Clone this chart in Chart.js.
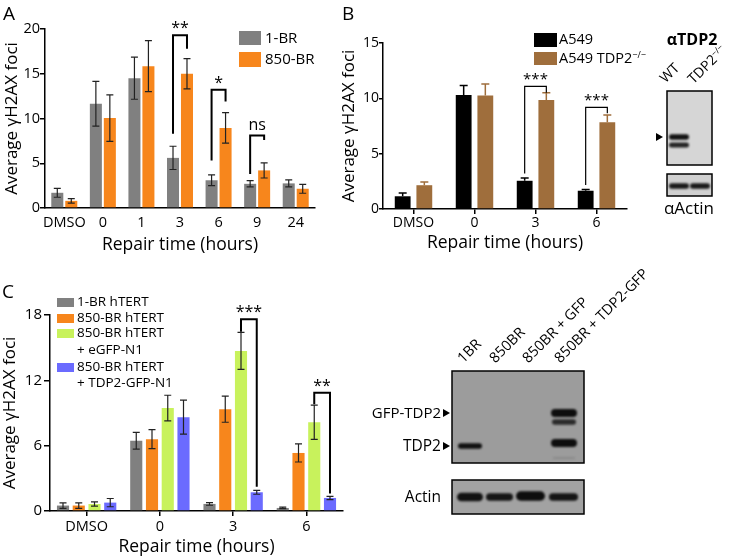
<!DOCTYPE html>
<html>
<head>
<meta charset="utf-8">
<script src="https://cdn.jsdelivr.net/npm/chart.js"></script>
<style>
  body { margin: 0; background: #fff; }
  #fig { position: relative; width: 734px; height: 558px; font-family: 'Open Sans', sans-serif; color: #000; }
  .pane { position: absolute; }
  .t { position: absolute; white-space: nowrap; line-height: 1; }
  .sq { position: absolute; }
  .rot { position: absolute; white-space: nowrap; line-height: 1; transform-origin: left bottom; transform: rotate(-45deg); }
  sup { font-size: 0.62em; vertical-align: 0.55em; line-height: 0; }
</style>
</head>
<body>
<div id="fig">
  <div class="pane" style="left:0;top:0"><canvas id="chartA" width="340" height="260"></canvas></div>
  <div class="pane" style="left:340px;top:0"><canvas id="chartB" width="300" height="260"></canvas></div>
  <div class="pane" style="left:0;top:260px"><canvas id="chartC" width="350" height="298"></canvas></div>
  <canvas id="blots" width="734" height="558" style="position:absolute;left:0;top:0;pointer-events:none"></canvas>

  <div class="t" style="left:3px;top:4px;font-size:19px">A</div>
  <div class="t" style="left:342px;top:4px;font-size:19px">B</div>
  <div class="t" style="left:2px;top:282px;font-size:19px">C</div>

  <!-- legend A -->
  <div class="sq" style="left:239px;top:31px;width:22px;height:14px;background:#808080"></div>
  <div class="t" style="left:265px;top:29.7px;font-size:15px">1-BR</div>
  <div class="sq" style="left:239px;top:52px;width:22px;height:15px;background:#f7861c"></div>
  <div class="t" style="left:265px;top:50.7px;font-size:15px">850-BR</div>

  <!-- legend B -->
  <div class="sq" style="left:534px;top:33px;width:23px;height:14px;background:#000"></div>
  <div class="t" style="left:559px;top:32px;font-size:14.5px">A549</div>
  <div class="sq" style="left:534px;top:52px;width:23px;height:13px;background:#9f6e3c"></div>
  <div class="t" style="left:559px;top:50.5px;font-size:14.5px">A549 TDP2<sup>−/−</sup></div>

  <!-- legend C -->
  <div class="sq" style="left:57px;top:297.5px;width:17px;height:9px;background:#808080"></div>
  <div class="t" style="left:77px;top:294.6px;font-size:13.5px">1-BR hTERT</div>
  <div class="sq" style="left:57px;top:313.5px;width:17px;height:9px;background:#f7861c"></div>
  <div class="t" style="left:77px;top:310.6px;font-size:13.5px">850-BR hTERT</div>
  <div class="sq" style="left:57px;top:328.5px;width:17px;height:9px;background:#c8f25c"></div>
  <div class="t" style="left:77px;top:325.6px;font-size:13.5px">850-BR hTERT</div>
  <div class="t" style="left:77px;top:342.6px;font-size:13.5px">+ eGFP-N1</div>
  <div class="sq" style="left:57px;top:362.5px;width:17px;height:9px;background:#6b6bff"></div>
  <div class="t" style="left:77px;top:359.6px;font-size:13.5px">850-BR hTERT</div>
  <div class="t" style="left:77px;top:375.6px;font-size:13.5px">+ TDP2-GFP-N1</div>

  <!-- blot B text -->
  <div class="t" style="left:692px;top:31px;font-size:16px;font-weight:bold;transform:translateX(-50%)">αTDP2</div>
  <div class="rot" style="left:667px;top:71px;font-size:14px">WT</div>
  <div class="rot" style="left:695px;top:72px;font-size:14px">TDP2<sup>−/−</sup></div>
  <div class="t" style="left:689px;top:198.5px;font-size:17px;transform:translateX(-50%)">αActin</div>

  <!-- blot C text -->
  <div class="rot" style="left:465px;top:351px;font-size:14.5px">1BR</div>
  <div class="rot" style="left:497px;top:351px;font-size:14.5px">850BR</div>
  <div class="rot" style="left:530px;top:351px;font-size:14.5px">850BR + GFP</div>
  <div class="rot" style="left:562px;top:351px;font-size:14.5px">850BR + TDP2-GFP</div>
  <div class="t" style="right:293px;top:404.7px;font-size:15px">GFP-TDP2</div>
  <div class="t" style="right:293px;top:437.5px;font-size:15.5px">TDP2</div>
  <div class="t" style="right:293px;top:488.5px;font-size:15.5px">Actin</div>
</div>

<script>
// ---- panel A data ----
const catsA = ['DMSO', '0', '1', '3', '6', '9', '24'];
const oneBR = [1.7, 11.65, 14.5, 5.6, 3.1, 2.7, 2.75];
const oneBRErr = [0.5, 2.5, 2.35, 1.3, 0.6, 0.35, 0.4];
const br850 = [0.8, 10.05, 15.85, 15.0, 8.95, 4.2, 2.15];
const br850Err = [0.25, 2.6, 2.85, 1.7, 1.7, 0.85, 0.5];
const bracketsA = [
  { cat: 3, a: 0, b: 1, top: 19.3, aBot: 8.3, bBot: 17.8, text: '**' },
  { cat: 4, a: 0, b: 1, top: 13.2, aBot: 5.3, bBot: 11.9, text: '*' },
  { cat: 5, a: 0, b: 1, top: 8.1, aBot: 3.8, bBot: 7.6, text: 'ns' }
];

// ---- panel B data ----
const catsB = ['DMSO', '0', '3', '6'];
const a549 = [1.15, 10.3, 2.55, 1.65];
const a549Err = [0.3, 0.85, 0.25, 0.12];
const a549KO = [2.15, 10.25, 9.85, 7.85];
const a549KOErr = [0.28, 1.05, 0.65, 0.65];
const bracketsB = [
  { cat: 2, a: 0, b: 1, top: 11.08, aBot: 3.2, bBot: 10.5, text: '***' },
  { cat: 3, a: 0, b: 1, top: 9.18, aBot: 2.17, bBot: 8.66, text: '***' }
];

// ---- panel C data ----
const catsC = ['DMSO', '0', '3', '6'];
const c1BR = [0.5, 6.45, 0.65, 0.28];
const c1BRErr = [0.25, 0.77, 0.12, 0.07];
const c850 = [0.5, 6.6, 9.35, 5.33];
const c850Err = [0.25, 0.88, 1.2, 0.83];
const cGFP = [0.64, 9.45, 14.7, 8.15];
const cGFPErr = [0.2, 1.18, 1.7, 1.58];
const cTDP2 = [0.77, 8.62, 1.72, 1.2];
const cTDP2Err = [0.38, 1.56, 0.18, 0.15];
const bracketsC = [
  { cat: 2, a: 2, b: 3, top: 17.6, aBot: 16.47, bBot: 2.23, text: '***' },
  { cat: 3, a: 2, b: 3, top: 10.87, aBot: 9.8, bBot: 1.6, text: '**' }
];

Chart.defaults.font.family = "'Open Sans', sans-serif";
Chart.defaults.color = '#000';

// error bars + significance brackets, drawn from the chart's own scales
const marks = {
  id: 'marks',
  afterDatasetsDraw(chart, args, opts) {
    const ctx = chart.ctx;
    const y = chart.scales.y;
    ctx.save();
    ctx.lineWidth = opts.errWidth;
    chart.data.datasets.forEach((ds, i) => {
      chart.getDatasetMeta(i).data.forEach((bar, j) => {
        const v = ds.data[j], e = ds.err[j];
        const yt = y.getPixelForValue(v + e);
        const yb = opts.upOnly ? y.getPixelForValue(v) : y.getPixelForValue(v - e);
        ctx.strokeStyle = ds.errColor || opts.errColor;
        ctx.beginPath();
        ctx.moveTo(bar.x, yt); ctx.lineTo(bar.x, yb);
        ctx.moveTo(bar.x - opts.cap, yt); ctx.lineTo(bar.x + opts.cap, yt);
        if (!opts.upOnly) { ctx.moveTo(bar.x - opts.cap, yb); ctx.lineTo(bar.x + opts.cap, yb); }
        ctx.stroke();
      });
    });
    ctx.strokeStyle = '#000';
    ctx.fillStyle = '#000';
    ctx.lineWidth = opts.brWidth;
    ctx.textAlign = 'center';
    ctx.textBaseline = 'alphabetic';
    ctx.font = opts.brFont + "px 'Open Sans', sans-serif";
    opts.brackets.forEach(b => {
      const xa = chart.getDatasetMeta(b.a).data[b.cat].x;
      const xb = chart.getDatasetMeta(b.b).data[b.cat].x;
      const yt = y.getPixelForValue(b.top);
      ctx.beginPath();
      ctx.moveTo(xa, y.getPixelForValue(b.aBot));
      ctx.lineTo(xa, yt);
      ctx.lineTo(xb, yt);
      ctx.lineTo(xb, y.getPixelForValue(b.bBot));
      ctx.stroke();
      const off = b.text.includes('*') ? 2 : 6;
      ctx.fillText(b.text, (xa + xb) / 2, yt - off);
    });
    ctx.restore();
  }
};

function yAxis(max, step, w, fs, tickLen, pad, titlePad) {
  return {
    min: 0, max: max,
    ticks: { stepSize: step, font: { size: fs }, padding: pad, color: '#000' },
    grid: { drawOnChartArea: false, drawTicks: true, tickLength: tickLen, color: '#000', lineWidth: 1.5 },
    border: { display: true, color: '#000', width: 1.5 },
    title: { display: true, text: 'Average γH2AX foci', font: { size: 17 }, color: '#000', padding: { top: titlePad, bottom: 0 } },
    afterFit: s => { s.width = w; }
  };
}

function xAxis(h, fs, withTicks, pad, titlePad) {
  return {
    grid: { display: withTicks, drawOnChartArea: false, drawTicks: withTicks, offset: false, tickLength: 5, color: '#000', lineWidth: 1.5 },
    border: { display: true, color: '#000', width: 1.5 },
    ticks: { font: { size: fs }, padding: pad, color: '#000', maxRotation: 0, autoSkip: false },
    title: { display: true, text: 'Repair time (hours)', font: { size: 17.5 }, color: '#000', padding: { top: 0, bottom: titlePad } },
    afterFit: s => { s.height = h; }
  };
}

function barChart(id, labels, datasets, pad, x, y, cp, bp, markOpts) {
  return new Chart(document.getElementById(id), {
    type: 'bar',
    data: { labels: labels, datasets: datasets },
    options: {
      responsive: false,
      animation: false,
      datasets: { bar: { categoryPercentage: cp, barPercentage: bp } },
      layout: { padding: pad },
      plugins: { legend: { display: false }, tooltip: { enabled: false }, marks: markOpts },
      scales: { x: x, y: y }
    },
    plugins: [marks]
  });
}

barChart('chartA', catsA, [
  { label: '1-BR', data: oneBR, err: oneBRErr, backgroundColor: '#808080' },
  { label: '850-BR', data: br850, err: br850Err, backgroundColor: '#f7861c' }
], { left: 0, right: 25, top: 29, bottom: 0 },
  xAxis(52, 14.5, false, 6.5, 4.5), yAxis(20, 5, 45, 14.5, 5, 0, 2.3), 0.725, 0.86,
  { errColor: '#222', errWidth: 1.2, cap: 3.5, upOnly: false, brackets: bracketsA, brWidth: 2, brFont: 16 });

barChart('chartB', catsB, [
  { label: 'A549', data: a549, err: a549Err, backgroundColor: '#000', errColor: '#000' },
  { label: 'A549 TDP2−/−', data: a549KO, err: a549KOErr, backgroundColor: '#9f6e3c', errColor: '#9f6e3c' }
], { left: 0, right: 13, top: 43, bottom: 0 },
  xAxis(51, 14, true, 1, 6.5), yAxis(15, 5, 43, 14, 4, 0, -1.5), 0.71, 0.73,
  { errColor: '#000', errWidth: 1.5, cap: 4, upOnly: true, brackets: bracketsB, brWidth: 1.2, brFont: 15 });

barChart('chartC', catsC, [
  { label: '1-BR hTERT', data: c1BR, err: c1BRErr, backgroundColor: '#808080' },
  { label: '850-BR hTERT', data: c850, err: c850Err, backgroundColor: '#f7861c' },
  { label: '850-BR hTERT + eGFP-N1', data: cGFP, err: cGFPErr, backgroundColor: '#c8f25c' },
  { label: '850-BR hTERT + TDP2-GFP-N1', data: cTDP2, err: cTDP2Err, backgroundColor: '#6b6bff' }
], { left: 0, right: 7, top: 55, bottom: 0 },
  xAxis(47, 14.5, true, 2.5, 0), yAxis(18, 6, 50, 15, 6, 2, 0.3), 0.86, 0.77,
  { errColor: '#222', errWidth: 1.2, cap: 3.5, upOnly: false, brackets: bracketsC, brWidth: 2, brFont: 16 });

// ---- western blot panels (pictures, not data) ----
const bl = document.getElementById('blots').getContext('2d');
function box(x, y, w, h, fill) {
  bl.fillStyle = fill; bl.fillRect(x, y, w, h);
  bl.lineWidth = 1.5; bl.strokeStyle = '#000'; bl.strokeRect(x, y, w, h);
}
function band(x1, x2, yc, h, col) {
  bl.save();
  bl.filter = 'blur(1px)';
  bl.fillStyle = col;
  bl.beginPath();
  bl.roundRect(x1, yc - h / 2, x2 - x1, h, h / 2);
  bl.fill();
  bl.restore();
}
function arrow(x, y) {
  bl.fillStyle = '#000';
  bl.beginPath(); bl.moveTo(x, y - 4); bl.lineTo(x + 7, y); bl.lineTo(x, y + 4); bl.closePath(); bl.fill();
}

box(667, 91, 45, 74, '#d6d6d6');
band(669, 689, 137, 5.5, '#111');
band(669, 689, 145, 5, '#222');
arrow(656, 137);
box(667, 174, 45, 22, '#d0d0d0');
band(669, 689, 186, 5.5, '#1a1a1a');
band(690, 710, 186, 5.5, '#1a1a1a');

box(452, 371, 132, 92, '#9c9c9c');
band(458, 482, 446, 5.5, '#111');
band(551, 577, 413, 8, '#0d0d0d');
band(552, 576, 422, 5.5, '#2a2a2a');
band(551, 577, 443, 8, '#0d0d0d');
band(553, 575, 458, 2, '#8a8a8a');
arrow(443, 413);
arrow(443, 446);
box(452, 480, 132, 34, '#a2a2a2');
band(457, 483, 497, 8.5, '#111');
band(486, 513, 497, 7.5, '#151515');
band(516, 545, 496, 9.5, '#0d0d0d');
band(549, 578, 497, 7.5, '#151515');
</script>
</body>
</html>
